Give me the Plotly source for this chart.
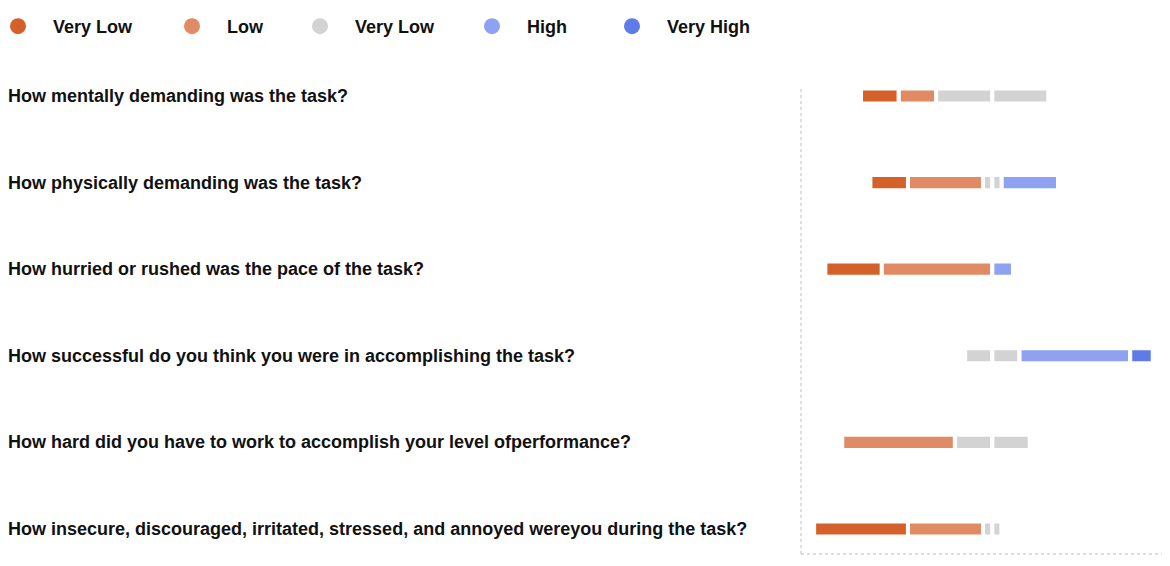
import plotly.graph_objects as go

# questionnaire items (top to bottom)
questions = [
    "How mentally demanding was the task?",
    "How physically demanding was the task?",
    "How hurried or rushed was the pace of the task?",
    "How successful do you think you were in accomplishing the task?",
    "How hard did you have to work to accomplish your level ofperformance?",
    "How insecure, discouraged, irritated, stressed, and annoyed wereyou during the task?",
]

# share of answers per category (%)
very_low = [20, 20, 30, 0, 0, 50]
low = [20, 40, 59, 0, 60, 40]
neutral = [60, 10, 0, 29, 40, 10]
high = [0, 30, 11, 59, 0, 0]
very_high = [0, 0, 0, 12, 0, 0]

legend_names = ["Very Low", "Low", "Very Low", "High", "Very High"]
colors = ["#d4612a", "#e08b63", "#d3d3d3", "#8fa2f1", "#5f7be8"]

# page body adds 8px, so the figure is drawn 8px smaller
W, H = 1162, 558
R, T, B = 6, 81, 12
plot_left = 793
gs_w = W - R
gs_h = H - T - B

half_neutral = [v / 2 for v in neutral]
neg = lambda vals: [-v for v in vals]

bar_line = dict(color="white", width=4)
fig = go.Figure()

# left side, stacked outward from the centre
for vals, c in [(half_neutral, colors[2]), (low, colors[1]), (very_low, colors[0])]:
    fig.add_trace(go.Bar(y=questions, x=neg(vals), orientation="h", width=0.175,
                         marker=dict(color=c, line=bar_line), showlegend=False,
                         hoverinfo="skip"))
# right side
for vals, c in [(half_neutral, colors[2]), (high, colors[3]), (very_high, colors[4])]:
    fig.add_trace(go.Bar(y=questions, x=vals, orientation="h", width=0.175,
                         marker=dict(color=c, line=bar_line), showlegend=False,
                         hoverinfo="skip"))

# legend entries with round symbols
entry_w = [99, 53, 97, 65, 100]
for name, c, ew in zip(legend_names, colors, entry_w):
    fig.add_trace(go.Scatter(x=[None], y=[None], mode="markers", name=name,
                             marker=dict(color=c, size=16, symbol="circle"),
                             legendwidth=ew))

annotations = [
    dict(x=-2 / gs_w, xref="paper", y=q, yref="y", text=q, showarrow=False,
         xanchor="left", yanchor="middle",
         font=dict(family="Liberation Sans, Arial, sans-serif", size=18,
                   color="#111", weight="bold"))
    for q in questions
]

dotted = dict(color="#bdbdbd", width=1, dash="dot")
shapes = [
    dict(type="line", xref="x domain", yref="y domain", x0=0, x1=0, y0=0, y1=1, line=dotted),
    dict(type="line", xref="x domain", yref="y domain", x0=1, x1=1, y0=0, y1=1, line=dotted),
    dict(type="line", xref="x domain", yref="y domain", x0=0, x1=1, y0=0, y1=0, line=dotted),
]

fig.update_layout(
    width=W, height=H,
    margin=dict(l=0, r=R, t=T, b=B, autoexpand=False),
    paper_bgcolor="white", plot_bgcolor="white",
    barmode="relative",
    font=dict(family="Liberation Sans, Arial, sans-serif", color="#111"),
    xaxis=dict(domain=[plot_left / gs_w, 1], range=[-102, 91.5], visible=False,
               fixedrange=True),
    yaxis=dict(range=[5.289, -0.081], visible=False, fixedrange=True),
    legend=dict(orientation="h", xref="paper", yref="paper",
                x=-25 / gs_w, y=1 + T / gs_h, xanchor="left", yanchor="top",
                font=dict(size=18, weight="bold"), itemwidth=60),
    annotations=annotations,
    shapes=shapes,
)

fig.write_html("out.html")
